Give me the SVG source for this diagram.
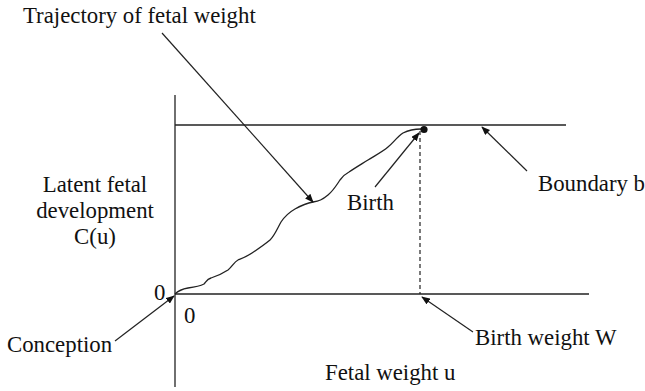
<svg xmlns="http://www.w3.org/2000/svg" width="645" height="391" viewBox="0 0 645 391">
<style>
text{font-family:"Liberation Serif","Times New Roman",serif;font-size:22.8px;fill:#111}
.ax{stroke:#222;stroke-width:1.3;fill:none}
.ar{stroke:#222;stroke-width:1.2;fill:none;marker-end:url(#ah)}
</style>
<defs>
<marker id="ah" viewBox="0 0 10 8" refX="9" refY="4" markerWidth="9" markerHeight="7" markerUnits="userSpaceOnUse" orient="auto">
<path d="M0,0 L10,4 L0,8 Z" fill="#111"/>
</marker>
</defs>
<rect width="645" height="391" fill="#fff"/>
<g id="axes">
<line class="ax" x1="175" y1="95" x2="175" y2="387"/>
<line class="ax" x1="175" y1="125" x2="566" y2="125"/>
<line class="ax" x1="175" y1="294" x2="589" y2="294"/>
<line x1="420" y1="131" x2="420" y2="294" stroke="#222" stroke-width="1.2" stroke-dasharray="4,3"/>
</g>
<g id="trajectory">
<path class="ax" stroke-width="1.2" d="M175,294 C178,291 182,289 188,288 C195,287 200,286 204,284 C206,282 207,279 211,278 C217,276 222,274 228,270 C232,267 234,262 238,260 C243,258 246,257 252,253 C258,249 264,245 270,240 C275,235 277,229 281,222 C285,216 288,213 295,209 C302,205 307,203 313,202 C319,201 322,200 328,195 C333,191 336,186 340,180 C343,176 345,174 349,172 C355,168 360,165 368,160 C376,155 382,152 388,147 C394,142 397,137 403,133 C409,130 414,129 421,129"/>
<circle cx="424" cy="129.5" r="3.6" fill="#111"/>
</g>
<g id="labels">
<text x="23" y="23">Trajectory of fetal weight</text>
<text x="95" y="192" text-anchor="middle">Latent fetal</text>
<text x="95" y="218" text-anchor="middle">development</text>
<text x="95" y="244" text-anchor="middle">C(u)</text>
<text x="347" y="210">Birth</text>
<text x="538" y="191">Boundary b</text>
<text x="154" y="300">0</text>
<text x="184" y="323">0</text>
<text x="7" y="352">Conception</text>
<text x="475" y="345">Birth weight W</text>
<text x="325" y="380">Fetal weight u</text>
</g>
<g id="connectors">
<line class="ar" x1="162" y1="33" x2="313" y2="202"/>
<line class="ar" x1="375" y1="187" x2="419" y2="133"/>
<line class="ar" x1="527" y1="171" x2="482" y2="127"/>
<line class="ar" x1="473" y1="332" x2="422" y2="297"/>
<line class="ar" x1="115" y1="341" x2="174" y2="296"/>
</g>
</svg>
